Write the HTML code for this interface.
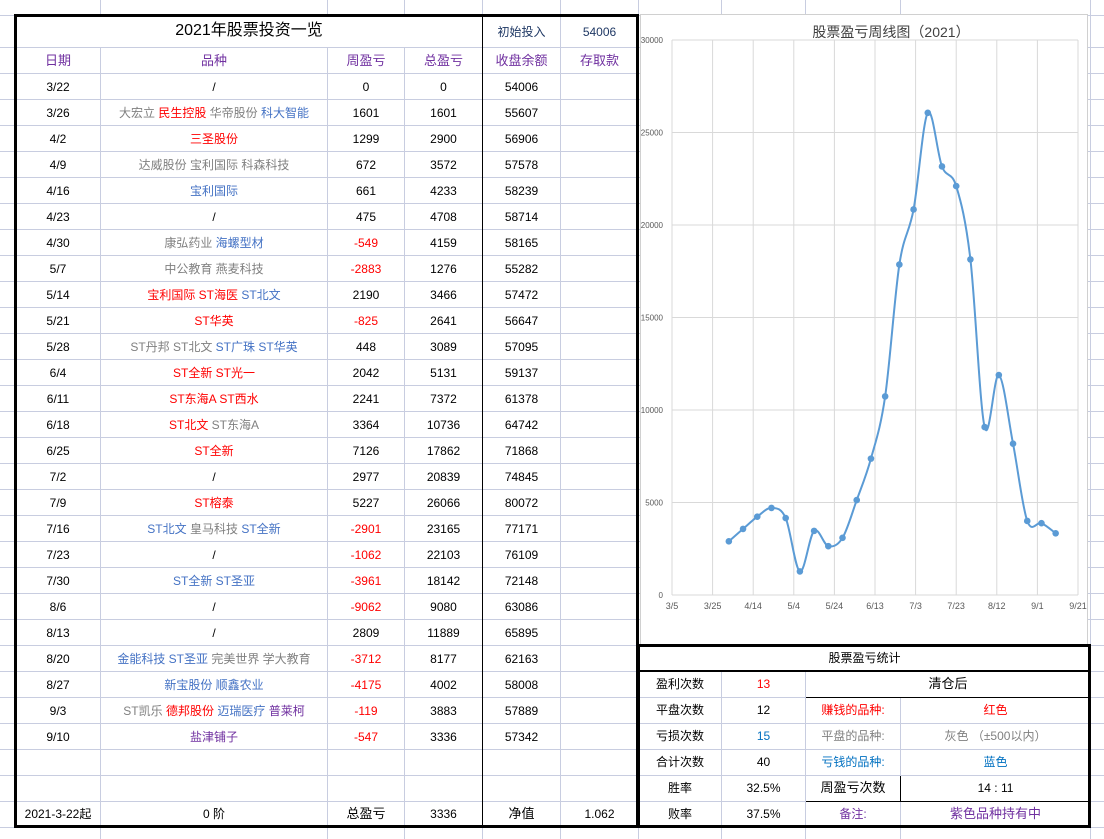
<!DOCTYPE html>
<html><head><meta charset="utf-8">
<style>
*{margin:0;padding:0;box-sizing:border-box}
body{width:1104px;height:839px;background:#fff;position:relative;overflow:hidden;font-family:"Liberation Sans","Noto Sans CJK SC",sans-serif;font-size:12px;color:#000}
#bg{position:absolute;left:0;top:0}
table{border-collapse:collapse;position:absolute;table-layout:fixed}
td{text-align:center;border:1px solid #c8cde0;padding:0;white-space:nowrap;overflow:hidden;background:#fff;line-height:14px}
#t1{left:15px;top:15px}
.g{color:#808080}.r{color:#ff0000}.b{color:#4472c4}.p{color:#7030a0}.bb{color:#0070c0}
.h td{color:#7030a0;font-size:13px}
#chart{position:absolute;left:640px;top:14px;width:448px;height:631px;background:#fff;border:1px solid #d0d0d0}
#t2{left:638px;top:645px}
</style></head><body>
<svg id="bg" width="1104" height="839"></svg>
<table id="t1">
<colgroup><col style="width:85px"><col style="width:227px"><col style="width:77px"><col style="width:78px"><col style="width:78px"><col style="width:78px"></colgroup>
<tbody id="tb"></tbody>
</table>
<div style="position:absolute;left:14px;top:14px;width:625px;height:814px;border:3px solid #000;pointer-events:none"></div>
<div style="position:absolute;left:482px;top:15px;width:1px;height:812px;background:#000"></div>
<div id="chart"><svg id="cs" width="448" height="631"></svg></div>
<table id="t2">
<colgroup><col style="width:83px"><col style="width:84px"><col style="width:95px"><col style="width:190px"></colgroup>
<tr style="height:26px"><td colspan="4" style="border:none;border-bottom:2px solid #000">股票盈亏统计</td></tr>
<tr style="height:26px"><td>盈利次数</td><td class="r">13</td><td colspan="2" style="border-left:1px solid #000;border-bottom:1px solid #000;font-size:13px">清仓后</td></tr>
<tr style="height:26px"><td>平盘次数</td><td>12</td><td class="r" style="border-left:1px solid #000">赚钱的品种:</td><td class="r">红色</td></tr>
<tr style="height:26px"><td>亏损次数</td><td class="bb">15</td><td class="g" style="border-left:1px solid #000">平盘的品种:</td><td class="g">灰色 （±500以内）</td></tr>
<tr style="height:26px"><td>合计次数</td><td>40</td><td class="bb" style="border-left:1px solid #000">亏钱的品种:</td><td class="bb">蓝色</td></tr>
<tr style="height:26px"><td style="border-top:1px solid #000">胜率</td><td style="border-top:1px solid #000">32.5%</td><td style="border:1px solid #000;font-size:13px">周盈亏次数</td><td style="border-top:1px solid #000;border-bottom:1px solid #000">14 : 11</td></tr>
<tr style="height:26px"><td>败率</td><td>37.5%</td><td class="p" style="border-left:1px solid #000">备注:</td><td class="p" style="font-size:13px">紫色品种持有中</td></tr>
</table>
<div style="position:absolute;left:637px;top:644px;width:454px;height:184px;border:3px solid #000;pointer-events:none"></div>
<script>
var bg=document.getElementById('bg'),s='';
var ys=[15];for(var y=47;y<=853;y+=26)ys.push(y);
ys.forEach(function(y){s+='<line x1="0" y1="'+(y+.5)+'" x2="1104" y2="'+(y+.5)+'" stroke="#c8cde0"/>'});
[100,327,404,482,560,638,721,805,900,1090].forEach(function(x){s+='<line x1="'+(x+.5)+'" y1="0" x2="'+(x+.5)+'" y2="839" stroke="#c8cde0"/>'});
bg.innerHTML=s;
var rows=[
['3/22','/','0','0','54006'],
['3/26','<span class="g">大宏立</span> <span class="r">民生控股</span> <span class="g">华帝股份</span> <span class="b">科大智能</span>','1601','1601','55607'],
['4/2','<span class="r">三圣股份</span>','1299','2900','56906'],
['4/9','<span class="g">达威股份 宝利国际 科森科技</span>','672','3572','57578'],
['4/16','<span class="b">宝利国际</span>','661','4233','58239'],
['4/23','/','475','4708','58714'],
['4/30','<span class="g">康弘药业</span> <span class="b">海螺型材</span>','-549','4159','58165'],
['5/7','<span class="g">中公教育 燕麦科技</span>','-2883','1276','55282'],
['5/14','<span class="r">宝利国际 ST海医</span> <span class="b">ST北文</span>','2190','3466','57472'],
['5/21','<span class="r">ST华英</span>','-825','2641','56647'],
['5/28','<span class="g">ST丹邦 ST北文</span> <span class="b">ST广珠 ST华英</span>','448','3089','57095'],
['6/4','<span class="r">ST全新 ST光一</span>','2042','5131','59137'],
['6/11','<span class="r">ST东海A ST西水</span>','2241','7372','61378'],
['6/18','<span class="r">ST北文</span> <span class="g">ST东海A</span>','3364','10736','64742'],
['6/25','<span class="r">ST全新</span>','7126','17862','71868'],
['7/2','/','2977','20839','74845'],
['7/9','<span class="r">ST榕泰</span>','5227','26066','80072'],
['7/16','<span class="b">ST北文</span> <span class="g">皇马科技</span> <span class="b">ST全新</span>','-2901','23165','77171'],
['7/23','/','-1062','22103','76109'],
['7/30','<span class="b">ST全新 ST圣亚</span>','-3961','18142','72148'],
['8/6','/','-9062','9080','63086'],
['8/13','/','2809','11889','65895'],
['8/20','<span class="b">金能科技 ST圣亚</span> <span class="g">完美世界 学大教育</span>','-3712','8177','62163'],
['8/27','<span class="b">新宝股份 顺鑫农业</span>','-4175','4002','58008'],
['9/3','<span class="g">ST凯乐</span> <span class="r">德邦股份</span> <span class="b">迈瑞医疗</span> <span class="p">普莱柯</span>','-119','3883','57889'],
['9/10','<span class="p">盐津铺子</span>','-547','3336','57342']];
var h='<tr style="height:32px"><td colspan="4" style="font-size:16px;border-top:none">2021年股票投资一览</td><td style="color:#1f3864">初始投入</td><td style="color:#1f3864">54006</td></tr>';
h+='<tr class="h" style="height:26px"><td>日期</td><td>品种</td><td>周盈亏</td><td>总盈亏</td><td>收盘余额</td><td>存取款</td></tr>';
rows.forEach(function(r){h+='<tr style="height:26px"><td>'+r[0]+'</td><td>'+r[1]+'</td><td'+(r[2][0]=='-'?' class="r"':'')+'>'+r[2]+'</td><td>'+r[3]+'</td><td>'+r[4]+'</td><td></td></tr>'});
h+='<tr style="height:26px"><td></td><td></td><td></td><td></td><td></td><td></td></tr><tr style="height:26px"><td></td><td></td><td></td><td></td><td></td><td></td></tr>';
h+='<tr style="height:25px"><td>2021-3-22起</td><td>0 阶</td><td style="font-size:13px">总盈亏</td><td>3336</td><td style="font-size:13px">净值</td><td>1.062</td></tr>';
document.getElementById('tb').innerHTML=h;
var ox=640,oy=14,c='';
function X(d){return 671+d*2.03-ox}function Y(v){return 594-v*0.0185-oy}
for(var i=0;i<=10;i++){var x=X(i*20);c+='<line x1="'+x+'" y1="'+Y(30000)+'" x2="'+x+'" y2="'+Y(0)+'" stroke="#d9d9d9"/>';
var lb=['3/5','3/25','4/14','5/4','5/24','6/13','7/3','7/23','8/12','9/1','9/21'][i];
c+='<text x="'+x+'" y="'+(Y(0)+14)+'" font-size="9" text-anchor="middle" fill="#595959">'+lb+'</text>';}
for(var v=0;v<=30000;v+=5000){var y=Y(v);c+='<line x1="'+X(0)+'" y1="'+y+'" x2="'+X(200)+'" y2="'+y+'" stroke="#d9d9d9"/><text x="'+(X(0)-9)+'" y="'+(y+3)+'" font-size="8" text-anchor="end" fill="#595959">'+v+'</text>';}
c+='<text x="250" y="22" font-size="14" text-anchor="middle" fill="#404040">股票盈亏周线图（2021）</text>';
var vals=[2900,3572,4233,4708,4159,1276,3466,2641,3089,5131,7372,10736,17862,20839,26066,23165,22103,18142,9080,11889,8177,4002,3883,3336];
var P=vals.map(function(v,i){return [X(28+7*i),Y(v)]});
var d='M'+P[0][0]+','+P[0][1];
for(var i=0;i<P.length-1;i++){var p0=P[Math.max(i-1,0)],p1=P[i],p2=P[i+1],p3=P[Math.min(i+2,P.length-1)],t=6;
d+=' C'+(p1[0]+(p2[0]-p0[0])/t)+','+(p1[1]+(p2[1]-p0[1])/t)+' '+(p2[0]-(p3[0]-p1[0])/t)+','+(p2[1]-(p3[1]-p1[1])/t)+' '+p2[0]+','+p2[1];}
c+='<path d="'+d+'" fill="none" stroke="#5b9bd5" stroke-width="2"/>';
P.forEach(function(p){c+='<circle cx="'+p[0]+'" cy="'+p[1]+'" r="3.3" fill="#5b9bd5"/>'});
document.getElementById('cs').innerHTML=c;
</script>
</body></html>
